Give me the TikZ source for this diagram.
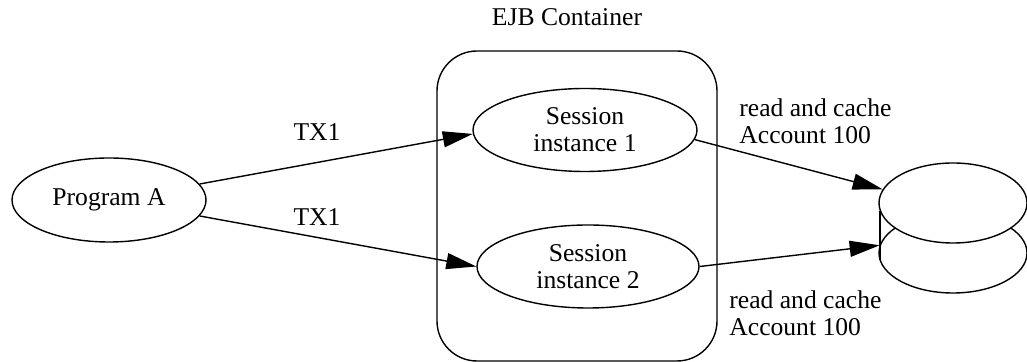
\documentclass[tikz,border=0pt]{standalone}
\usepackage{fontspec}
\setmainfont{Liberation Serif}
\usetikzlibrary{shapes.geometric,arrows.meta}
\begin{document}
\begin{tikzpicture}[x=0.5pt,y=-0.5pt,
  every node/.style={font=\fontsize{12.8}{13.5}\selectfont},
  oval/.style={ellipse,draw,line width=0.7pt,inner sep=0pt,fill=white},
  conn/.style={line width=0.7pt,-{Triangle[length=15pt,width=8pt]}},
  lbl/.style={align=left,inner sep=0pt},
  ]
\useasboundingbox (0,0) rectangle (1027,362);
% container
\node[draw,line width=0.7pt,rounded corners=20pt,minimum width=140pt,minimum height=155pt,inner sep=0pt] (container) at (577,206) {};
\node[inner sep=0pt] (title) at (567,17) {EJB Container};
% nodes
\node[oval,minimum width=97pt,minimum height=42pt] (pa) at (109,200) {Program A};
\node[oval,minimum width=112pt,minimum height=41.5pt,align=center] (s1) at (585,130) {Session\\instance 1};
\node[oval,minimum width=111pt,minimum height=41.5pt,align=center] (s2) at (588,266.5) {Session\\instance 2};
% database
\node[oval,minimum width=74pt,minimum height=40pt] (db2) at (953,253) {};
\node[oval,minimum width=74pt,minimum height=40pt] (db1) at (953,203) {};
\coordinate (vtop) at (880,211);
\coordinate (vbot) at (880,260);
\draw[line width=1pt] (vtop) -- (vbot);
% connectors
\draw[conn] (pa.10) -- (s1.182);
\node[inner sep=0pt] (tx1a) at (317,132) {TX1};
\draw[conn] (pa.-10) -- (s2.west);
\node[inner sep=0pt] (tx1b) at (317,217) {TX1};
\draw[conn] (s1.-5) -- (db1.169);
\draw[conn] (s2.east) -- (db2.174);
\node[lbl,anchor=west] (r1) at (739,121) {read and cache\\Account 100};
\node[lbl,anchor=west] (r2) at (729,313) {read and cache\\Account 100};
\end{tikzpicture}
\end{document}
